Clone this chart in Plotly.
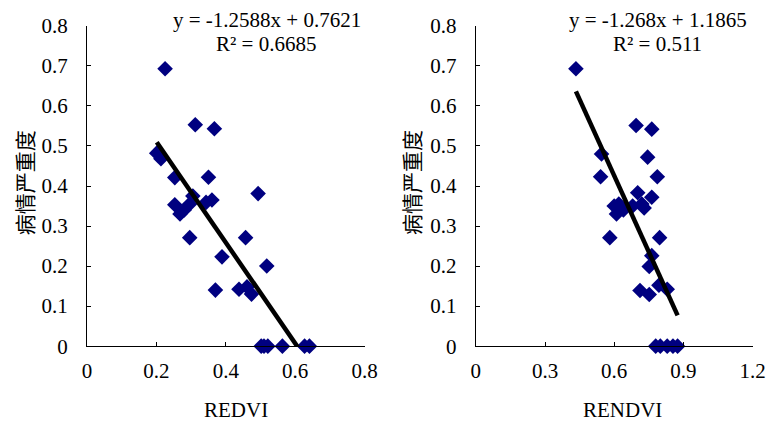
import plotly.graph_objects as go

# ---- data ----
redvi_x = [0.225, 0.312, 0.367, 0.201, 0.213, 0.253, 0.350, 0.493, 0.253, 0.268, 0.280,
           0.296, 0.305, 0.343, 0.360, 0.296, 0.457, 0.389, 0.518, 0.370, 0.438, 0.461,
           0.474, 0.502, 0.510, 0.521, 0.563, 0.627, 0.641]
redvi_y = [0.693, 0.553, 0.543, 0.482, 0.468, 0.421, 0.422, 0.381, 0.353, 0.330, 0.340,
           0.355, 0.375, 0.359, 0.365, 0.271, 0.271, 0.223, 0.200, 0.140, 0.142, 0.148,
           0.130, 0.0, 0.0, 0.0, 0.0, 0.0, 0.0]

rendvi_x = [0.434, 0.695, 0.763, 0.545, 0.745, 0.541, 0.787, 0.702, 0.763, 0.600, 0.620,
            0.610, 0.640, 0.680, 0.720, 0.730, 0.581, 0.797, 0.763, 0.752, 0.712, 0.752,
            0.794, 0.830, 0.780, 0.800, 0.830, 0.855, 0.875]
rendvi_y = [0.693, 0.551, 0.542, 0.480, 0.472, 0.423, 0.423, 0.383, 0.372, 0.350, 0.355,
            0.330, 0.340, 0.350, 0.355, 0.345, 0.271, 0.271, 0.226, 0.199, 0.139, 0.129,
            0.152, 0.142, 0.0, 0.0, 0.0, 0.0, 0.0]

# trend line coefficients (from the equations printed on the chart)
left_slope, left_icpt = -1.2588, 0.7621
right_slope, right_icpt = -1.268, 1.1865
left_eq = ["y = -1.2588x + 0.7621", "R² = 0.6685"]
right_eq = ["y = -1.268x + 1.1865", "R² = 0.511"]

left_xticks = [0, 0.2, 0.4, 0.6, 0.8]
right_xticks = [0, 0.3, 0.6, 0.9, 1.2]
yticks = [0, 0.1, 0.2, 0.3, 0.4, 0.5, 0.6, 0.7, 0.8]
y_title = "病情严重度"

W, H = 779, 428
SERIF = "Liberation Serif"
NAVY = "#000080"
FS = 21

fig = go.Figure()

def add_panel(xs, ys, slope, icpt, xa, ya):
    fig.add_trace(go.Scatter(x=xs, y=ys, mode="markers", xaxis=xa, yaxis=ya,
                             marker=dict(symbol="diamond", size=12, color=NAVY),
                             cliponaxis=False, showlegend=False))
    x0, x1 = min(xs), max(xs)
    fig.add_trace(go.Scatter(x=[x0, x1], y=[slope * x0 + icpt, slope * x1 + icpt],
                             mode="lines", xaxis=xa, yaxis=ya,
                             line=dict(color="black", width=4.5), showlegend=False))

add_panel(redvi_x, redvi_y, left_slope, left_icpt, "x", "y")
add_panel(rendvi_x, rendvi_y, right_slope, right_icpt, "x2", "y2")

# map target picture pixels to paper fractions
def px_x(p):
    return (p - 2.4) / 773.0

def px_y(p):
    return 1 - (p - 9.3) / 408.3

ydom = [px_y(347.0), px_y(23.3)]
axis_common = dict(showgrid=False, zeroline=False, showline=True, linecolor="black",
                   linewidth=1.2, ticks="inside", ticklen=4, tickcolor="black",
                   tickfont=dict(family=SERIF, size=FS, color="black"))

fig.update_layout(
    width=W, height=H, margin=dict(l=0, r=0, t=0, b=0),
    plot_bgcolor="white", paper_bgcolor="white",
    xaxis=dict(domain=[px_x(85.7), px_x(367.7)], range=[0, 0.8], tickvals=left_xticks,
               ticktext=[f"{v:g}" for v in left_xticks], anchor="y",
               ticklabelstandoff=6, **axis_common),
    yaxis=dict(domain=ydom, range=[0, 0.8], tickvals=yticks,
               ticktext=[f"{v:g}" for v in yticks], anchor="x",
               ticklabelstandoff=14, **axis_common),
    xaxis2=dict(domain=[px_x(480.7), px_x(761.7)], range=[0, 1.2], tickvals=right_xticks,
                ticktext=[f"{v:g}" for v in right_xticks], anchor="y2",
                ticklabelstandoff=6, **axis_common),
    yaxis2=dict(domain=ydom, range=[0, 0.8], tickvals=yticks,
                ticktext=[f"{v:g}" for v in yticks], anchor="x2",
                ticklabelstandoff=14, **axis_common),
)

def ann(text, x, y, size=FS, family=SERIF, angle=0):
    fig.add_annotation(text=text, x=px_x(x), y=px_y(y), xref="paper", yref="paper",
                       showarrow=False, xanchor="center", yanchor="middle",
                       font=dict(family=family, size=size, color="black"), textangle=angle)

ann(left_eq[0], 269, 17)
ann(left_eq[1], 268, 42)
ann(right_eq[0], 666, 17)
ann(right_eq[1], 665, 42)
ann("REDVI", 237, 412)
ann("RENDVI", 630, 412)
ann(y_title, 22, 182, family="Noto Sans CJK SC", angle=-90)
ann(y_title, 415, 182, family="Noto Sans CJK SC", angle=-90)

fig.write_html("out.html", config={"displayModeBar": False},
               post_script="document.body.style.margin='0';")
